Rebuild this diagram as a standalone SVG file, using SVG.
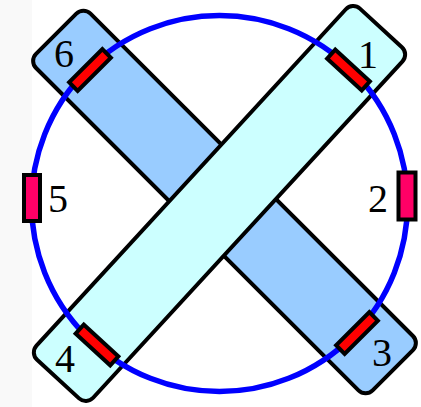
<svg xmlns="http://www.w3.org/2000/svg" width="421" height="407" viewBox="0 0 421 407">
<style>
.bar{stroke:#000;stroke-width:4}
.cyan{fill:#ccffff}
.blue{fill:#99ccff}
.m{fill:#ff0000;stroke:#000;stroke-width:4}
.s{fill:#ff0066;stroke:#000;stroke-width:4}
.lbl{font-family:"Liberation Serif","Times New Roman",serif;font-size:40px;fill:#000;text-anchor:middle}
</style>
<rect x="0" y="0" width="421" height="407" fill="#ffffff"/>
<rect x="0" y="0" width="32" height="407" fill="#f9f9f9"/>
<g id="bar-blue"><rect class="bar blue" x="-238" y="-38.5" width="476" height="77" rx="10" transform="translate(224.5,202) rotate(45)"/></g>
<g id="bar-cyan"><rect class="bar cyan" x="-238.5" y="-38.5" width="477" height="77" rx="10" transform="translate(219.5,203.5) rotate(-47.4)"/></g>
<g id="connectors"><circle cx="219.5" cy="203.5" r="188" fill="none" stroke="#0000ff" stroke-width="5.5"/></g>
<g id="n1"><rect class="m" x="-23.5" y="-6" width="47" height="12" transform="translate(348.5,70) rotate(42.6)"/><text class="lbl" x="368" y="68">1</text></g>
<g id="n2"><rect class="s" x="-8.5" y="-23.5" width="17" height="47" transform="translate(407,196)"/><text class="lbl" x="378" y="211.5">2</text></g>
<g id="n3"><rect class="m" x="-23.5" y="-6" width="47" height="12" transform="translate(357,333) rotate(-45)"/><text class="lbl" x="382" y="365.5">3</text></g>
<g id="n4"><rect class="m" x="-23.5" y="-6" width="47" height="12" transform="translate(97,345) rotate(42.6)"/><text class="lbl" x="65" y="371.5">4</text></g>
<g id="n5"><rect class="s" x="-8" y="-23" width="16" height="46" transform="translate(32,198)"/><text class="lbl" x="58" y="211.5">5</text></g>
<g id="n6"><rect class="m" x="-23.5" y="-6" width="47" height="12" transform="translate(90,70) rotate(-45)"/><text class="lbl" x="64" y="67">6</text></g>
</svg>
